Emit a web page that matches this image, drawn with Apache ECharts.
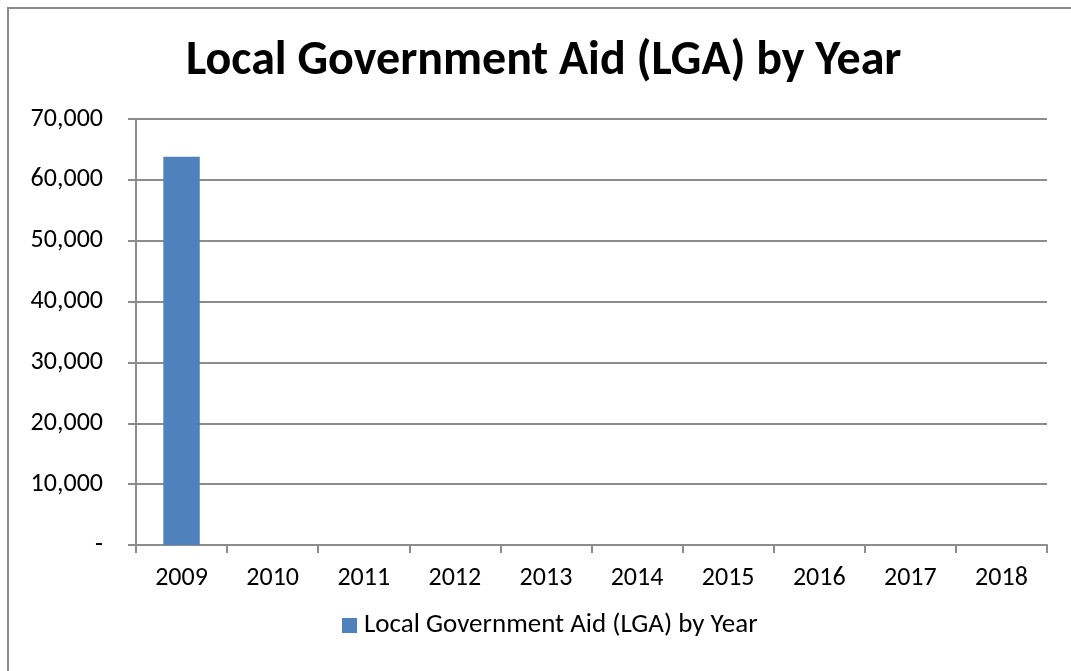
<!DOCTYPE html>
<html>
<head>
<meta charset="utf-8">
<script src="https://cdn.jsdelivr.net/npm/echarts@6/dist/echarts.min.js"></script>
<style>
  html, body { margin: 0; padding: 0; background: #fff; }
  #chart { width: 1071px; height: 671px; }
</style>
</head>
<body>
<div id="chart"></div>
<script>
// Annual LGA amounts (only 2009 reported)
const years = ['2009', '2010', '2011', '2012', '2013', '2014', '2015', '2016', '2017', '2018'];
const lgaValues = [63800, null, null, null, null, null, null, null, null, null];
const seriesName = 'Local Government Aid (LGA) by Year';
const chartTitle = 'Local Government Aid (LGA) by Year';

const FONT = "Carlito, 'Liberation Sans Narrow', 'Liberation Sans', Arial, sans-serif";
const GRID_COLOR = '#8c8c8c';

const chart = echarts.init(document.getElementById('chart'), null, { renderer: 'canvas' });

chart.setOption({
  backgroundColor: '#ffffff',
  animation: false,
  title: {
    text: chartTitle,
    left: 186,
    top: 38,
    padding: 0,
    textStyle: { fontFamily: FONT, fontSize: 48, fontWeight: 'bold', color: '#000' }
  },
  graphic: [{
    type: 'rect',
    shape: { x: 8, y: 8, width: 1200, height: 800 },
    style: { fill: 'none', stroke: '#8a8a8a', lineWidth: 2 },
    silent: true
  }],
  grid: { left: 136, right: 24, top: 119, bottom: 126, containLabel: false },
  legend: {
    data: [seriesName],
    bottom: 27,
    left: 337,
    icon: 'rect',
    itemWidth: 15,
    itemHeight: 15,
    itemGap: 7,
    textStyle: { fontFamily: FONT, fontSize: 27, color: '#000', padding: [0, 0, 0, 2] }
  },
  xAxis: {
    type: 'category',
    data: years,
    boundaryGap: true,
    axisLine: { lineStyle: { color: GRID_COLOR, width: 2 } },
    axisTick: { show: true, alignWithLabel: false, length: 8, lineStyle: { color: GRID_COLOR, width: 2 } },
    axisLabel: { fontFamily: FONT, fontSize: 26, color: '#000', margin: 20 },
    splitLine: { show: false }
  },
  yAxis: {
    type: 'value',
    min: 0,
    max: 70000,
    interval: 10000,
    axisLine: { show: true, lineStyle: { color: GRID_COLOR, width: 2 } },
    axisTick: { show: true, length: 8, lineStyle: { color: GRID_COLOR, width: 2 } },
    axisLabel: {
      fontFamily: FONT, fontSize: 26, color: '#000', margin: 33,
      formatter: v => v === 0 ? '-' : v.toLocaleString('en-US')
    },
    splitLine: { show: true, lineStyle: { color: GRID_COLOR, width: 2 } }
  },
  series: [{
    name: seriesName,
    type: 'bar',
    data: lgaValues,
    barWidth: '40%',
    itemStyle: { color: '#4F81BD' }
  }]
});
</script>
</body>
</html>
